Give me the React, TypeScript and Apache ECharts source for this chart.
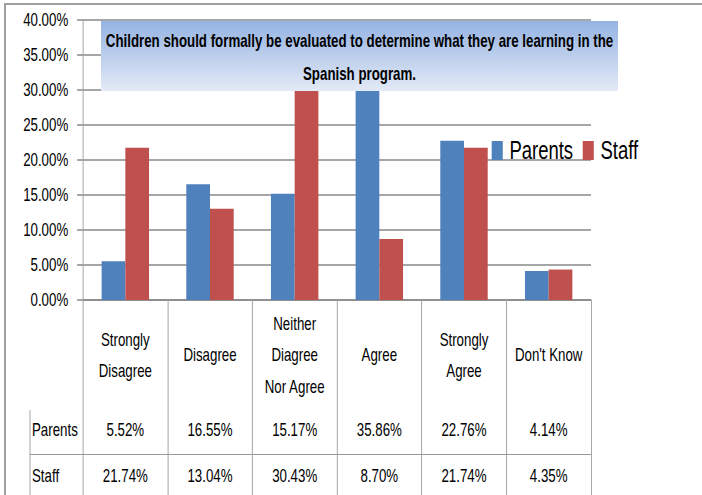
import React, { useEffect, useRef } from "react";
import * as echarts from "echarts";

const categories = ["Strongly\nDisagree", "Disagree", "Neither\nDiagree\nNor Agree", "Agree", "Strongly\nAgree", "Don't Know"];
const parents = [5.52, 16.55, 15.17, 35.86, 22.76, 4.14];
const staff = [21.74, 13.04, 30.43, 8.7, 21.74, 4.35];
const seriesNames = ["Parents", "Staff"];
const titleLines = ["Children should formally be evaluated to determine what they are learning in the", "Spanish program."];
const yMin = 0;
const yMax = 40;
const yStep = 5;

const S = 702 / 950; // horizontal compression applied to the whole chart
const k = 1 / S;
const FONT = "'Liberation Sans', Arial, sans-serif";

export default function App() {
  const ref = useRef<HTMLDivElement>(null);
  useEffect(() => {
    if (!ref.current) return;
    const chart = echarts.init(ref.current, null, { renderer: "svg", width: 950, height: 495 });
    const fmt = (v: number) => v.toFixed(2) + "%";
    const tableAxis = (vals: number[], margin: number) => ({
      type: "category",
      data: categories,
      position: "bottom",
      gridIndex: 0,
      axisLine: { show: false },
      axisTick: { show: false },
      splitLine: { show: false },
      axisLabel: {
        interval: 0,
        margin,
        verticalAlign: "middle",
        fontFamily: FONT,
        fontSize: 18,
        color: "#000",
        formatter: (_v: string, i: number) => fmt(vals[i]),
      },
    });
    chart.setOption({
      animation: false,
      backgroundColor: "#fff",
      grid: { left: 83 * k, right: 950 - 591 * k, top: 20, bottom: 195 },
      legend: {
        data: seriesNames,
        left: 488 * k,
        top: 133,
        itemWidth: 15,
        itemHeight: 19,
        itemGap: 13,
        icon: "rect",
        textStyle: { fontFamily: FONT, fontSize: 25, color: "#000", padding: [0, 0, 0, 4] },
      },
      xAxis: [
        {
          type: "category",
          data: categories,
          position: "bottom",
          axisLine: { show: true, lineStyle: { color: "#888", width: 1.5 } },
          axisTick: { show: true, interval: 0, length: 195, lineStyle: { color: "#a6a6a6", width: 1.35 } },
          axisLabel: {
            interval: 0,
            margin: 55,
            verticalAlign: "middle",
            fontFamily: FONT,
            fontSize: 18,
            lineHeight: 31.5,
            color: "#000",
            align: "center",
          },
        },
        tableAxis(parents, 130),
        tableAxis(staff, 176),
      ],
      yAxis: {
        type: "value",
        min: yMin,
        max: yMax,
        interval: yStep,
        axisLine: { show: true, lineStyle: { color: "#a6a6a6", width: 1.35 } },
        axisTick: { show: true, length: 8, lineStyle: { color: "#888", width: 1.5 } },
        splitLine: { show: true, lineStyle: { color: "#888", width: 1.5 } },
        axisLabel: { margin: 20, fontFamily: FONT, fontSize: 18, color: "#000", formatter: (v: number) => fmt(v) },
      },
      series: [
        { name: seriesNames[0], type: "bar", data: parents, barWidth: "28%", barGap: "0%", itemStyle: { color: "#4f81bd" } },
        { name: seriesNames[1], type: "bar", data: staff, barWidth: "28%", barGap: "0%", itemStyle: { color: "#c0504d" } },
      ],
      graphic: [
        { type: "line", z: 50, shape: { x1: 4 * k, y1: 4, x2: 950, y2: 4 }, style: { stroke: "#a0a0a0", lineWidth: 2 } },
        { type: "line", z: 50, shape: { x1: 5 * k, y1: 3, x2: 5 * k, y2: 495 }, style: { stroke: "#a0a0a0", lineWidth: 2.7 } },
        {
          type: "rect",
          z: 100,
          shape: { x: 101 * k, y: 21, width: 517 * k, height: 70 },
          style: {
            fill: new echarts.graphic.LinearGradient(0, 0, 0, 1, [
              { offset: 0, color: "#95b3e3" },
              { offset: 1, color: "#e3eaf6" },
            ]),
          },
        },
        {
          type: "text",
          z: 101,
          x: 359.5 * k,
          y: 57,
          style: {
            text: titleLines.join("\n"),
            fontFamily: FONT,
            fontWeight: "bold",
            fontSize: 18,
            lineHeight: 33,
            fill: "#000",
            align: "center",
            verticalAlign: "middle",
          },
        },
        { type: "text", z: 60, x: 32 * k, y: 430, style: { text: seriesNames[0], fontFamily: FONT, fontSize: 18, fill: "#000", align: "left", verticalAlign: "middle" } },
        { type: "text", z: 60, x: 32 * k, y: 476, style: { text: seriesNames[1], fontFamily: FONT, fontSize: 18, fill: "#000", align: "left", verticalAlign: "middle" } },
        { type: "line", z: 50, shape: { x1: 30 * k, y1: 454.5, x2: 591 * k, y2: 454.5 }, style: { stroke: "#999", lineWidth: 1.2 } },
        { type: "line", z: 50, shape: { x1: 30 * k, y1: 410, x2: 30 * k, y2: 495 }, style: { stroke: "#a6a6a6", lineWidth: 1.35 } },
      ],
    });
    return () => chart.dispose();
  }, []);
  return (
    <div style={{ position: "fixed", left: 0, top: 0, width: 702, height: 495, overflow: "hidden", background: "#fff" }}>
      <div
        ref={ref}
        style={{ width: 950, height: 495, transform: `scaleX(${S})`, transformOrigin: "0 0" }}
      />
    </div>
  );
}
